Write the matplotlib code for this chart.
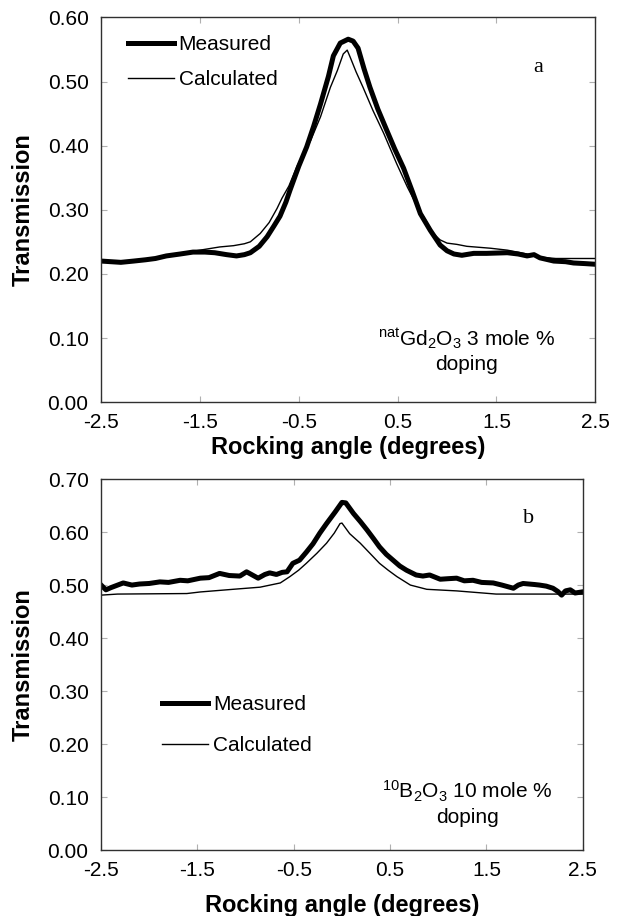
import matplotlib
matplotlib.use("Agg")
import matplotlib.pyplot as plt

plt.rcParams['font.family'] = ['Liberation Sans', 'DejaVu Sans']
plt.rcParams['mathtext.fontset'] = 'custom'
plt.rcParams['mathtext.rm'] = 'Liberation Sans'
plt.rcParams['mathtext.it'] = 'Liberation Sans:italic'

# panel a: natGd2O3 3 mole % doping
a_meas_x = [-2.50, -2.40, -2.30, -2.17, -2.05, -1.95, -1.84, -1.70, -1.57, -1.45,
            -1.35, -1.23, -1.13, -1.05, -0.99, -0.90, -0.82, -0.75, -0.69, -0.63,
            -0.59, -0.50, -0.42, -0.35, -0.28, -0.20, -0.15, -0.08, 0.00, 0.05,
            0.10, 0.16, 0.22, 0.30, 0.39, 0.47, 0.56, 0.65, 0.73, 0.83,
            0.93, 1.00, 1.07, 1.15, 1.27, 1.40, 1.61, 1.72, 1.81, 1.88,
            1.94, 2.08, 2.20, 2.28, 2.40, 2.50]
a_meas_y = [0.220, 0.219, 0.218, 0.220, 0.222, 0.224, 0.228, 0.231, 0.234, 0.234,
            0.233, 0.230, 0.228, 0.230, 0.233, 0.243, 0.258, 0.275, 0.290, 0.312,
            0.330, 0.368, 0.398, 0.430, 0.465, 0.508, 0.540, 0.560, 0.566, 0.563,
            0.552, 0.520, 0.491, 0.457, 0.424, 0.395, 0.365, 0.328, 0.294, 0.268,
            0.245, 0.236, 0.231, 0.229, 0.232, 0.232, 0.233, 0.231, 0.228, 0.230,
            0.225, 0.220, 0.219, 0.217, 0.216, 0.215]
a_calc_x = [-2.50, -2.30, -2.17, -1.95, -1.70, -1.46, -1.30, -1.16, -1.05, -0.99,
            -0.89, -0.80, -0.72, -0.67, -0.60, -0.52, -0.45, -0.38, -0.28, -0.18,
            -0.11, -0.05, -0.01, 0.02, 0.08, 0.15, 0.25, 0.36, 0.49, 0.60,
            0.70, 0.78, 0.86, 0.93, 1.00, 1.10, 1.20, 1.44, 1.61, 1.81,
            1.95, 2.10, 2.50]
a_calc_y = [0.220, 0.219, 0.221, 0.225, 0.232, 0.238, 0.242, 0.244, 0.247, 0.250,
            0.263, 0.280, 0.302, 0.318, 0.337, 0.367, 0.388, 0.408, 0.445, 0.491,
            0.517, 0.543, 0.549, 0.538, 0.515, 0.491, 0.455, 0.419, 0.372, 0.335,
            0.305, 0.285, 0.263, 0.253, 0.248, 0.246, 0.243, 0.240, 0.237, 0.231,
            0.226, 0.224, 0.224]

# panel b: 10B2O3 10 mole % doping
b_meas_x = [-2.50, -2.45, -2.40, -2.27, -2.18, -2.10, -2.00, -1.89, -1.80, -1.68,
            -1.60, -1.47, -1.38, -1.27, -1.17, -1.06, -0.99, -0.93, -0.87, -0.80,
            -0.75, -0.68, -0.62, -0.57, -0.51, -0.44, -0.37, -0.30, -0.23, -0.16,
            -0.07, 0.00, 0.04, 0.12, 0.19, 0.26, 0.33, 0.39, 0.46, 0.53,
            0.60, 0.67, 0.77, 0.84, 0.91, 1.02, 1.10, 1.19, 1.27, 1.36,
            1.45, 1.57, 1.66, 1.78, 1.83, 1.88, 2.00, 2.05, 2.12, 2.19,
            2.24, 2.28, 2.32, 2.37, 2.42, 2.49]
b_meas_y = [0.500, 0.491, 0.495, 0.504, 0.500, 0.502, 0.503, 0.506, 0.505, 0.509,
            0.508, 0.513, 0.514, 0.522, 0.518, 0.517, 0.525, 0.519, 0.513, 0.520,
            0.523, 0.520, 0.524, 0.525, 0.541, 0.547, 0.562, 0.578, 0.598, 0.616,
            0.638, 0.656, 0.655, 0.635, 0.620, 0.604, 0.587, 0.572, 0.558, 0.547,
            0.536, 0.528, 0.519, 0.517, 0.519, 0.511, 0.512, 0.513, 0.508, 0.509,
            0.505, 0.504, 0.500, 0.494, 0.500, 0.503, 0.501, 0.500, 0.498, 0.494,
            0.488, 0.481, 0.489, 0.491, 0.485, 0.487]
b_calc_x = [-2.50, -2.33, -1.61, -1.47, -1.13, -0.85, -0.64, -0.54, -0.45, -0.37,
            -0.26, -0.16, -0.08, -0.02, 0.00, 0.08, 0.19, 0.29, 0.39, 0.48,
            0.57, 0.71, 0.88, 1.19, 1.60, 2.50]
b_calc_y = [0.481, 0.483, 0.484, 0.487, 0.492, 0.496, 0.504, 0.516, 0.528, 0.541,
            0.560, 0.579, 0.598, 0.616, 0.617, 0.597, 0.579, 0.560, 0.541, 0.528,
            0.516, 0.500, 0.492, 0.489, 0.483, 0.483]

x_ticks = [-2.5, -1.5, -0.5, 0.5, 1.5, 2.5]
label_a = r'$^{\mathrm{nat}}$Gd$_{2}$O$_{3}$ 3 mole %' + '\ndoping'
label_b = r'$^{\mathrm{10}}$B$_{2}$O$_{3}$ 10 mole %' + '\ndoping'


def style_axes(ax, ymax, xlabelpad):
    ax.set_xlim(-2.5, 2.5)
    ax.set_ylim(0, ymax)
    ax.set_xticks(x_ticks)
    ax.set_xticklabels([str(t) for t in x_ticks])
    yt = [i / 10 for i in range(int(round(ymax * 10)) + 1)]
    ax.set_yticks(yt)
    ax.set_yticklabels(['%.2f' % t for t in yt])
    ax.tick_params(direction='in', length=4, width=0.8, color='#b0b0b0',
                   labelsize=15, top=True, right=True)
    ax.tick_params(axis='x', pad=8)
    ax.tick_params(axis='y', pad=9)
    for s in ax.spines.values():
        s.set_color('#303030')
        s.set_linewidth(1.0)
    ax.set_xlabel('Rocking angle (degrees)', fontsize=17, fontweight='bold', labelpad=xlabelpad)
    ax.set_ylabel('Transmission', fontsize=17, fontweight='bold', labelpad=9)


fig = plt.figure(figsize=(6.24, 9.16), dpi=100)
ax1 = fig.add_axes([0.162, 0.561, 0.792, 0.420])
ax2 = fig.add_axes([0.162, 0.072, 0.772, 0.405])

ax1.plot(a_meas_x, a_meas_y, color='black', lw=3.6, solid_joinstyle='round', label='Measured')
ax1.plot(a_calc_x, a_calc_y, color='black', lw=1.0, label='Calculated')
style_axes(ax1, 0.6, 3)
ax1.legend(loc='upper left', bbox_to_anchor=(0.037, 0.975), frameon=False, fontsize=15,
           handlelength=2.2, handletextpad=0.25, labelspacing=0.75, borderaxespad=0)
ax1.text(0.885, 0.871, 'a', transform=ax1.transAxes, fontsize=16,
         family='Liberation Serif', ha='center', va='center')
ax1.text(0.739, 0.135, label_a, transform=ax1.transAxes, fontsize=15,
         ha='center', va='center', linespacing=1.3)

ax2.plot(b_meas_x, b_meas_y, color='black', lw=3.6, solid_joinstyle='round', label='Measured')
ax2.plot(b_calc_x, b_calc_y, color='black', lw=1.0, label='Calculated')
style_axes(ax2, 0.7, 10)
ax2.legend(loc='upper left', bbox_to_anchor=(0.11, 0.44), frameon=False, fontsize=15,
           handlelength=2.2, handletextpad=0.25, labelspacing=1.05, borderaxespad=0)
ax2.text(0.888, 0.895, 'b', transform=ax2.transAxes, fontsize=16,
         family='Liberation Serif', ha='center', va='center')
ax2.text(0.76, 0.127, label_b, transform=ax2.transAxes, fontsize=15,
         ha='center', va='center', linespacing=1.3)

fig.savefig('out.png', dpi=100)
